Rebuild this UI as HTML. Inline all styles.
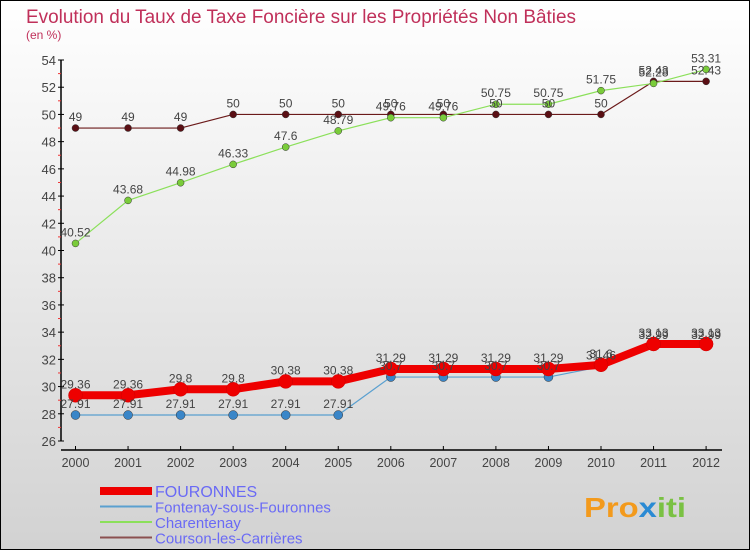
<!DOCTYPE html>
<html><head><meta charset="utf-8"><style>
html,body{margin:0;padding:0}
body{width:750px;height:550px;overflow:hidden;font-family:"Liberation Sans",sans-serif}
svg{display:block}
</style></head><body>
<svg id="c" width="750" height="550" xmlns="http://www.w3.org/2000/svg">
<defs><linearGradient id="bg" x1="0" y1="0" x2="0" y2="1"><stop offset="0" stop-color="#ffffff"/><stop offset="1" stop-color="#d2d2d2"/></linearGradient></defs>
<rect x="0.5" y="0.5" width="749" height="549" fill="url(#bg)" stroke="#000"/>
<text x="26" y="23" font-size="19" fill="#c0305a" textLength="550" lengthAdjust="spacingAndGlyphs">Evolution du Taux de Taxe Foncière sur les Propriétés Non Bâties</text>
<text x="26" y="39" font-size="12" fill="#c0305a">(en %)</text>
<g id="axes"></g><g id="series"></g><g id="labels"></g><g id="legend"></g>
<text x="584" y="517" font-size="28" font-weight="bold" fill="#f39a1c" textLength="102" lengthAdjust="spacingAndGlyphs">Pro<tspan fill="#2a8ad4">x</tspan><tspan fill="#7ac143">iti</tspan></text>
</svg>
<script>
const years=[2000,2001,2002,2003,2004,2005,2006,2007,2008,2009,2010,2011,2012];
const yTicks=[26,28,30,32,34,36,38,40,42,44,46,48,50,52,54];
const names=["FOURONNES","Fontenay-sous-Fouronnes","Charentenay","Courson-les-Carrières"];
const fouronnes=[29.36,29.36,29.8,29.8,30.38,30.38,31.29,31.29,31.29,31.29,31.6,33.13,33.13];
const fontenay=[27.91,27.91,27.91,27.91,27.91,27.91,30.7,30.7,30.7,30.7,31.46,32.99,32.99];
const charentenay=[40.52,43.68,44.98,46.33,47.6,48.79,49.76,49.76,50.75,50.75,51.75,52.28,53.31];
const courson=[49,49,49,50,50,50,50,50,50,50,50,52.43,52.43];
const NS="http://www.w3.org/2000/svg";
const X=i=>75.5+i*52.55;
const Y=v=>441-(v-26)*13.607;
function mk(parent,tag,attrs){const e=document.createElementNS(NS,tag);for(const k in attrs)e.setAttribute(k,attrs[k]);document.getElementById(parent).appendChild(e);return e;}
let a=mk("axes","line",{x1:61,y1:Y(54),x2:61,y2:Y(26),stroke:"#000","stroke-width":1.5});


a=mk("axes","line",{x1:61,y1:450,x2:722,y2:450,stroke:"#000","stroke-width":1.5});


yTicks.forEach(v=>{
 const t=mk("axes","line",{x1:58,y1:Y(v),x2:64,y2:Y(v),stroke:"#000"});
 
 
 if(v<54){const m=mk("axes","line",{x1:58,y1:Y(v+1),x2:61,y2:Y(v+1),stroke:"#e33"});
 
 }
 const l=mk("axes","text",{x:56,y:Y(v)+5,"font-size":13,fill:"#444","text-anchor":"end"});
 l.textContent=v;
 
 
});
years.forEach((yr,i)=>{
 const t=mk("axes","line",{x1:X(i),y1:446,x2:X(i),y2:450,stroke:"#000"});
 
 
 const l=mk("axes","text",{x:X(i),y:467,"font-size":12.5,fill:"#444","text-anchor":"middle"});
 l.textContent=yr;
 
 
});
const specs=[[courson,"#6b1a1a","#5a0f14",1.2,3.5],[charentenay,"#8be05a","#7acc3a",1.2,3.5],[fontenay,"#5aa0d0","#3a86c8",1.2,4.5],[fouronnes,"#ee0000","#ee0000",8,7]];
const snames=["courson","charentenay","fontenay","fouronnes"];
specs.forEach(([d,lc,pc,w,r],si)=>{
 const p=mk("series","polyline",{points:d.map((v,i)=>X(i)+","+Y(v)).join(" "),fill:"none",stroke:lc,"stroke-width":w});
 
 
 d.forEach((v,i)=>{
  const c=mk("series","circle",{cx:X(i),cy:Y(v),r:r,fill:pc,stroke:si==3?"#c00":"#333","stroke-width":0.5});
  
  
  const t=mk("labels","text",{x:X(i),y:Y(v)-7,"font-size":12,fill:"#444","text-anchor":"middle"});
  t.textContent=String(v);
  
  
 });
});
const legSpec=[["#ee0000",8,16],["#5aa0d0",2,15],["#8be05a",2,15],["#8b5050",2,15]];
names.forEach((n,i)=>{
 const y=491+i*15.5;
 const l=mk("legend","line",{x1:100,y1:y,x2:152,y2:y,stroke:legSpec[i][0],"stroke-width":legSpec[i][1]});
 
 
 const t=mk("legend","text",{x:155,y:y+6,"font-size":legSpec[i][2],fill:"#6a6af5"});
 t.textContent=n;
 
 
});
</script>
</body></html>
